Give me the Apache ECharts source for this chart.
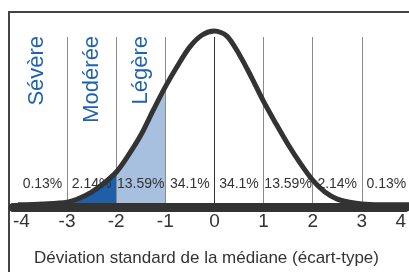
<!DOCTYPE html>
<html>
<head>
<meta charset="utf-8">
<script src="https://cdn.jsdelivr.net/npm/echarts@6/dist/echarts.min.js"></script>
<style>
  html, body { margin: 0; padding: 0; background: #fff; }
  #chart { width: 409px; height: 272px; }
</style>
</head>
<body>
<div id="chart"></div>
<script>
// standard deviations (axis ticks)
const ticks = [-4, -3, -2, -1, 0, 1, 2, 3, 4];
// share of the population in each band between two ticks
const pctLabels = ['0.13%', '2.14%', '13.59%', '34.1%', '34.1%', '13.59%', '2.14%', '0.13%'];
// severity names for the three left bands
const severity = ['Sévère', 'Modérée', 'Légère'];
// bell curve
const curveX = [-4, -3.5, -3, -2.75, -2.5, -2.25, -2, -1.75, -1.5, -1.25, -1, -0.75, -0.5, -0.25, 0,
  0.25, 0.5, 0.75, 1, 1.25, 1.5, 1.75, 2, 2.25, 2.5, 2.75, 3, 3.5, 4];
const curveY = [0.005, 0.007, 0.011, 0.020, 0.034, 0.054, 0.079, 0.118, 0.163, 0.219, 0.273, 0.321, 0.364, 0.391, 0.400,
  0.389, 0.348, 0.296, 0.240, 0.190, 0.142, 0.099, 0.061, 0.034, 0.018, 0.011, 0.007, 0.005, 0.005];

const font = "'Liberation Sans', Arial, sans-serif";
const curve = curveX.map((x, i) => [x, curveY[i]]);
const band = (a, b) => curve.filter(p => p[0] >= a && p[0] <= b);
const mids = pctLabels.map((_, i) => (ticks[i] + ticks[i + 1]) / 2);
const inner = ticks.slice(1, -1);

var myChart = echarts.init(document.getElementById('chart'));
var option = {
  backgroundColor: '#fff',
  animation: false,
  graphic: [{
    type: 'rect',
    shape: { x: 9, y: 12, width: 440, height: 300 },
    style: { fill: 'none', stroke: '#444', lineWidth: 2 },
    silent: true
  }],
  // the picture is cut a little on both sides, so the axis runs -4.1 .. 3.9
  grid: { left: 13, right: 0, top: 37, bottom: 64 },
  xAxis: {
    type: 'value',
    min: -4.1,
    max: 3.9,
    splitNumber: 8,
    minInterval: 1,
    maxInterval: 1,
    z: 10,
    axisLine: { lineStyle: { color: '#333', width: 9 } },
    axisTick: { show: false },
    splitLine: { show: false },
    axisLabel: {
      color: '#333',
      fontSize: 19,
      fontFamily: font,
      margin: 5,
      showMinLabel: true,
      showMaxLabel: true,
      alignMinLabel: 'left',
      alignMaxLabel: 'right',
      // the cut ends carry the -4 and 4 labels
      formatter: v => (v === ticks[0] ? '' : String(Math.round(v)))
    },
    name: 'Déviation standard de la médiane (écart-type)',
    nameLocation: 'middle',
    nameGap: 43,
    nameTextStyle: { color: '#333', fontSize: 17, fontFamily: font, padding: [0, 6, 0, 0] }
  },
  yAxis: { type: 'value', min: 0, max: 0.3865, show: false, splitLine: { show: false } },
  series: [
    {
      type: 'line',
      data: band(-3, -2),
      smooth: 0.3,
      symbol: 'none',
      lineStyle: { width: 0 },
      areaStyle: { color: '#1f5fa9', opacity: 1 },
      z: 2
    },
    {
      type: 'line',
      data: band(-2, -1),
      smooth: 0.3,
      symbol: 'none',
      lineStyle: { width: 0 },
      areaStyle: { color: '#a8c0df', opacity: 1 },
      z: 2,
      markLine: {
        silent: true,
        symbol: 'none',
        label: { show: false },
        data: inner.map(t => ({
          xAxis: t,
          lineStyle: { color: t === 0 ? '#333' : '#8a8a8a', width: 1, type: 'solid' }
        }))
      }
    },
    {
      type: 'scatter',
      data: mids.map((m, i) => ({ value: [m, 0.053], name: pctLabels[i] })),
      symbolSize: 0,
      silent: true,
      itemStyle: { opacity: 1 },
      z: 3,
      label: {
        show: true,
        position: 'inside',
        formatter: p => p.name,
        color: '#333',
        textBorderWidth: 0,
        fontSize: 14,
        fontFamily: font
      }
    },
    {
      type: 'scatter',
      // first name sits a bit left of its band, as in the picture
      // (offset is in the rotated frame of the label)
      data: severity.map((s, i) => ({
        value: [mids[i], 0.389],
        name: s,
        label: i === 0 ? { offset: [0, -6] } : {}
      })),
      symbolSize: 0,
      silent: true,
      clip: false,
      itemStyle: { opacity: 1 },
      z: 3,
      label: {
        show: true,
        position: 'inside',
        rotate: 90,
        align: 'right',
        verticalAlign: 'middle',
        formatter: p => p.name,
        color: '#1f62b0',
        textBorderWidth: 0,
        fontSize: 22,
        fontFamily: font
      }
    },
    {
      type: 'line',
      data: curve,
      smooth: 0.3,
      symbol: 'none',
      clip: false,
      lineStyle: { color: '#333', width: 5 },
      z: 5
    }
  ]
};
option && myChart.setOption(option);
</script>
</body>
</html>
